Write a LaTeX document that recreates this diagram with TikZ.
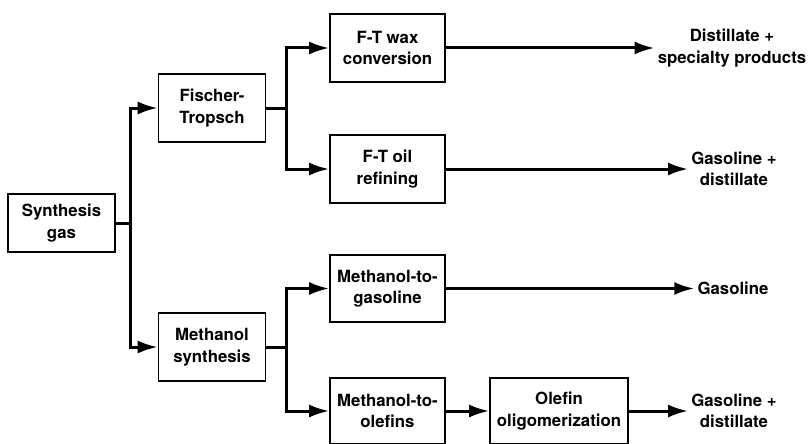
\documentclass[tikz,border=0pt]{standalone}
\usepackage{fontspec}
\setmainfont{TeX Gyre Heros}
\usetikzlibrary{arrows.meta}

\tikzset{
  box/.style={draw, line width=1.6pt, align=center, inner sep=2pt,
    minimum width=115pt, minimum height=68pt},
  product/.style={align=center, inner sep=3pt},
  flow/.style={->, line width=3pt}
}

\begin{document}
\begin{tikzpicture}[x=1pt, y=-1pt, >={Latex[length=20pt,width=13pt]},
    every node/.style={font=\fontsize{16.8}{21.5}\selectfont\bfseries}]

        \useasboundingbox (0,0) rectangle (809,444);

        % feed and the two first routes
        \node[box, minimum width=107pt, minimum height=58pt] (synthesis) at (61.5,223) {Synthesis\\gas};
        \node[box, minimum width=107pt] (fischer) at (212,108) {Fischer-\\Tropsch};
        \node[box, minimum width=107pt] (methanol) at (212,347) {Methanol\\synthesis};

        % second stage
        \node[box] (wax) at (387.5,48) {F-T wax\\conversion};
        \node[box] (oil) at (387.5,169) {F-T oil\\refining};
        \node[box, minimum height=67pt] (mtg) at (387.5,288.5) {Methanol-to-\\gasoline};
        \node[box, minimum height=66pt] (mto) at (387.5,411) {Methanol-to-\\olefins};
        \node[box, minimum width=138pt, minimum height=66pt] (oligo) at (559,411) {Olefin\\oligomerization};

        % products
        \node[product] (specialty) at (732,48) {Distillate +\\specialty products};
        \node[product] (oilprod) at (734,169) {Gasoline +\\distillate};
        \node[product] (gasoline) at (733,288.5) {Gasoline};
        \node[product] (mtoprod) at (734,411) {Gasoline +\\distillate};

        \draw[flow] (synthesis.east) -- ++(15,0) |- (fischer.west);
        \draw[flow] (synthesis.east) -- ++(15,0) |- (methanol.west);

        \draw[flow] (fischer.east) -- ++(20,0) |- (wax.west);
        \draw[flow] (fischer.east) -- ++(20,0) |- (oil.west);
        \draw[flow] (methanol.east) -- ++(20,0) |- (mtg.west);
        \draw[flow] (methanol.east) -- ++(20,0) |- (mto.west);

        \draw[flow] (wax) -- (specialty);
        \draw[flow] (oil) -- (oilprod);
        \draw[flow] (mtg) -- (gasoline);
        \draw[flow] (mto) -- (oligo);
        \draw[flow] (oligo) -- (mtoprod);

\end{tikzpicture}
\end{document}
